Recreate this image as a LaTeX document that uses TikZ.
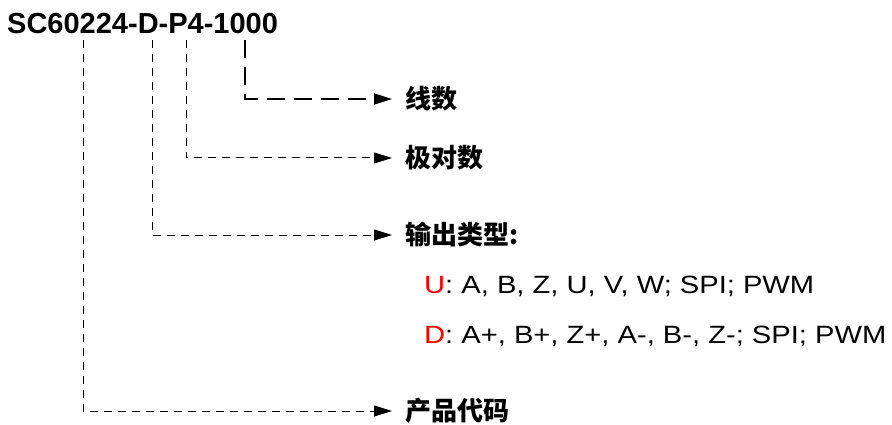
\documentclass[tikz,border=0pt]{standalone}
\usepackage{fontspec}
\setmainfont{Liberation Sans}
\newfontfamily\cjk{Noto Sans CJK SC}
\newfontfamily\widesans[FakeStretch=1.165]{Liberation Sans}
\usetikzlibrary{arrows.meta}

\begin{document}
\begin{tikzpicture}[x=1pt,y=-1pt,
  part/.style={anchor=west,inner sep=0pt,font=\cjk\bfseries\fontsize{26}{30}\selectfont},
  choice/.style={anchor=base west,inner sep=0pt,font=\widesans\fontsize{25}{29}\selectfont},
  thinlink/.style={line width=1pt,dash pattern=on 8pt off 6pt,-{Triangle[length=18pt,width=11pt]},shorten >=13pt},
  thicklink/.style={line width=2pt,dash pattern=on 18pt off 9pt,-{Triangle[length=18pt,width=11pt]},shorten >=13pt}]

\useasboundingbox (0,0) rectangle (892,425);

% model number
\node[anchor=base west,inner sep=0pt,font=\bfseries\fontsize{29}{34}\selectfont] (model) at (7,34) {SC60224-D-P4-1000};

\coordinate (lines) at (245,40);
\coordinate (poles) at (186,40);
\coordinate (output) at (152,40);
\coordinate (code) at (83,40);

% labels
\node[part] (linesL) at (405,99) {线数};
\node[part] (polesL) at (405,158) {极对数};
\node[part] (outputL) at (405,235) {输出类型:};
\node[part] (codeL) at (405,411) {产品代码};

\node[choice] (typeU) at (424,293) {\textcolor{red}{U}: A, B, Z, U, V, W; SPI; PWM};
\node[choice] (typeD) at (424,343) {\textcolor{red}{D}: A+, B+, Z+, A-, B-, Z-; SPI; PWM};

% links
\draw[thicklink] (lines) |- (linesL.west);
\foreach \n in {poles,output,code}
  \draw[thinlink] (\n) |- (\n L.west);

\end{tikzpicture}
\end{document}
